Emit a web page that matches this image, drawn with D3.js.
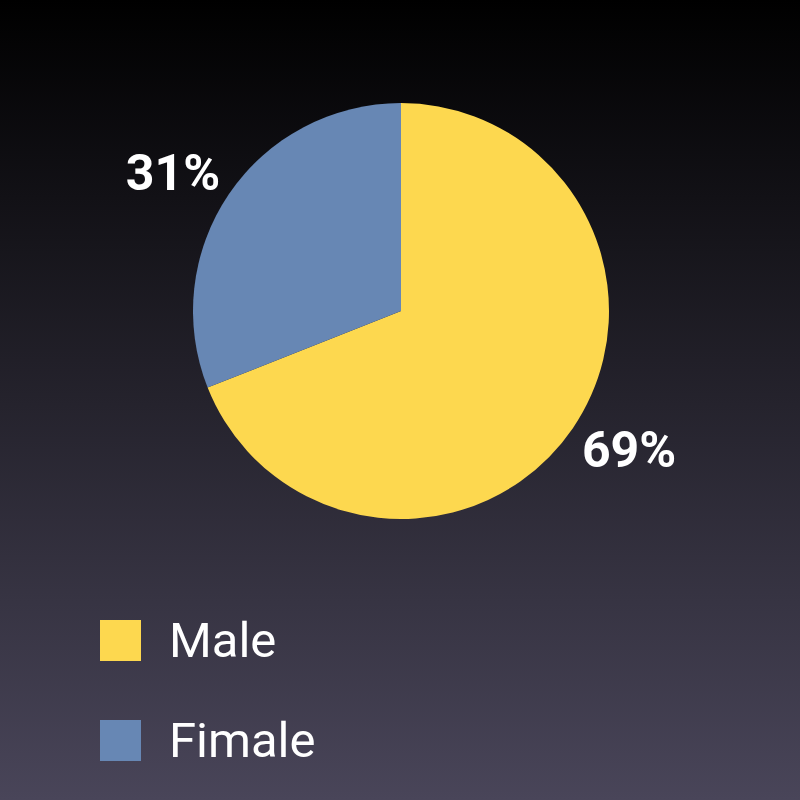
<!DOCTYPE html>
<html>
<head>
<meta charset="utf-8">
<script src="https://cdn.jsdelivr.net/npm/d3@7"></script>
<style>
  html, body { margin: 0; padding: 0; background: #000; }
  svg { display: block; font-family: Roboto, sans-serif; }
</style>
</head>
<body>
<div class="chart"></div>
<script>
const categories = ['Male', 'Fimale']
const values = [69, 31]
const labels = ['69%', '31%']
const colors = ['#fdd84f', '#6787b4']

const width = 800
const height = 800
const cx = 401
const cy = 311
const radius = 208

const svg = d3.select('.chart').append('svg')
  .attr('width', width)
  .attr('height', height)

// background gradient
const grad = svg.append('defs').append('linearGradient')
  .attr('id', 'bg')
  .attr('x1', 0).attr('y1', 0).attr('x2', 0).attr('y2', 1)
grad.append('stop').attr('offset', '0%').attr('stop-color', '#000000')
grad.append('stop').attr('offset', '100%').attr('stop-color', '#494559')

svg.append('rect')
  .attr('width', width)
  .attr('height', height)
  .attr('fill', 'url(#bg)')

const data = categories.map((c, i) => ({ name: c, value: values[i], label: labels[i], color: colors[i] }))

const pie = d3.pie().value(d => d.value).sort(null)
const arc = d3.arc().innerRadius(0).outerRadius(radius)
const labelArc = d3.arc().innerRadius(267).outerRadius(267)

const g = svg.append('g').attr('transform', `translate(${cx},${cy})`)

g.selectAll('path')
  .data(pie(data))
  .join('path')
  .attr('d', arc)
  .attr('fill', d => d.data.color)

// labels sit a little before the middle of each slice
g.selectAll('text')
  .data(pie(data))
  .join('text')
  .attr('transform', d => {
    const a = (d.startAngle + d.endAngle) / 2 - 0.05
    return `translate(${labelArc.centroid({ startAngle: a, endAngle: a })})`
  })
  .attr('text-anchor', 'middle')
  .attr('dy', '0.35em')
  .attr('fill', '#fff')
  .attr('font-size', 50)
  .attr('font-weight', 'bold')
  .text(d => d.data.label)

// legend
const legend = svg.append('g').attr('transform', 'translate(100,620)')
const item = legend.selectAll('g')
  .data(data)
  .join('g')
  .attr('transform', (d, i) => `translate(0,${i * 100})`)

item.append('rect')
  .attr('width', 41)
  .attr('height', 41)
  .attr('fill', d => d.color)

item.append('text')
  .attr('x', 69)
  .attr('y', 37)
  .attr('fill', '#fff')
  .attr('font-size', 49)
  .text(d => d.name)
</script>
</body>
</html>
